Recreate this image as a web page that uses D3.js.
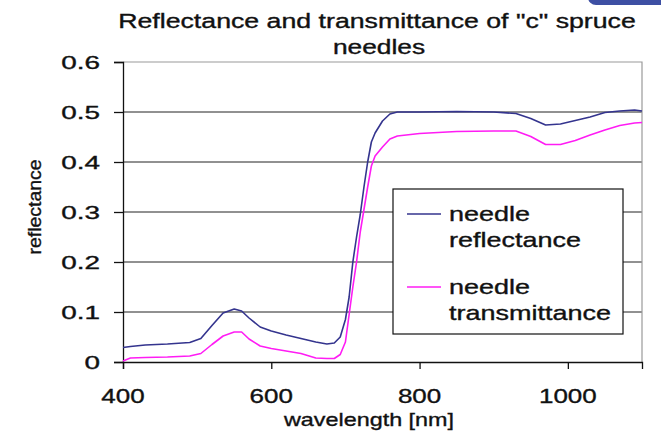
<!DOCTYPE html>
<html>
<head>
<meta charset="utf-8">
<script src="https://cdn.jsdelivr.net/npm/d3@7"></script>
<style>
  body { margin: 0; background: #fff; }
  svg { display: block; }
  text { font-family: "Liberation Sans", Arial, sans-serif; fill: #111; stroke: #111; stroke-width: 0.35px; }
</style>
</head>
<body>
<div id="mainDiv"></div>
<script>
'use strict';

var myApp = {};

// wavelength [nm]
myApp.wavelengths = [400, 410, 430, 460, 490, 505, 520, 535, 550, 560, 570, 585, 600, 620, 640, 660, 675, 685, 693,
    700, 705, 710, 715, 720, 725, 730, 735, 740, 750, 760, 770, 800, 850, 900, 930, 950, 970, 990, 1010, 1030,
    1050, 1070, 1090, 1100];

myApp.reflectance = [0.029, 0.031, 0.034, 0.036, 0.039, 0.047, 0.073, 0.098, 0.106, 0.102, 0.088, 0.070, 0.062,
    0.054, 0.047, 0.040, 0.036, 0.038, 0.050, 0.085, 0.130, 0.200, 0.250, 0.295, 0.350, 0.400, 0.440, 0.458,
    0.482, 0.496, 0.500, 0.500, 0.501, 0.500, 0.497, 0.487, 0.474, 0.476, 0.483, 0.490, 0.499, 0.502, 0.504, 0.502];

myApp.transmittance = [0.002, 0.008, 0.009, 0.010, 0.012, 0.017, 0.035, 0.052, 0.060, 0.060, 0.046, 0.032, 0.027,
    0.022, 0.017, 0.008, 0.007, 0.007, 0.015, 0.040, 0.095, 0.150, 0.200, 0.260, 0.305, 0.350, 0.392, 0.412,
    0.430, 0.446, 0.452, 0.457, 0.461, 0.462, 0.462, 0.451, 0.435, 0.435, 0.443, 0.454, 0.464, 0.473, 0.478, 0.479];

myApp.xTicks = [400, 600, 800, 1000];
myApp.yTicks = [0, 0.1, 0.2, 0.3, 0.4, 0.5, 0.6];
myApp.seriesNames = [["needle", "reflectance"], ["needle", "transmittance"]];
myApp.seriesColors = ["#34348e", "#ff1cf4"];
myApp.titleLines = ["Reflectance and transmittance of \"c\" spruce", "needles"];

// the source picture is stretched sideways, so text gets a horizontal scale
myApp.addText = function (parent, str, x, y, size, sx, anchor)
{
    return parent.append("text")
        .attr("transform", "translate(" + x + "," + y + ") scale(" + sx + ",1)")
        .attr("text-anchor", anchor || "start")
        .attr("font-size", size + "px")
        .text(str);
}

myApp.run = function ()
{
    var W = 661, H = 438;
    var left = 123, right = 642, top = 62, bottom = 362;

    var svg = d3.select("#mainDiv").append("svg")
        .attr("width", W)
        .attr("height", H);

    // bit of slide decoration at top right
    svg.append("rect")
        .attr("x", 588).attr("y", -10).attr("width", 90).attr("height", 15)
        .attr("rx", 8).attr("fill", "#3d4fa3");

    var x = d3.scaleLinear().domain([400, 1100]).range([left, right]);
    var y = d3.scaleLinear().domain([0, 0.6]).range([bottom, top]);

    // title
    myApp.addText(svg, myApp.titleLines[0], 377, 28, 19.5, 1.37, "middle");
    myApp.addText(svg, myApp.titleLines[1], 379, 54, 19.5, 1.35, "middle");

    // gridlines
    svg.append("g").selectAll("line")
        .data(myApp.yTicks.filter(function (d) { return d > 0 && d < 0.6; }))
        .enter().append("line")
            .attr("x1", left).attr("x2", right)
            .attr("y1", function (d) { return y(d); })
            .attr("y2", function (d) { return y(d); })
            .attr("stroke", "#222").attr("stroke-width", 1);

    // plot border top/right
    svg.append("path")
        .attr("d", "M" + left + "," + y(0.6) + "H" + right + "V" + bottom)
        .attr("fill", "none").attr("stroke", "#9a9a9a").attr("stroke-width", 1.2);

    // axes
    var yAxis = d3.axisLeft(y).tickValues(myApp.yTicks).tickSize(9).tickFormat("");
    var gy = svg.append("g").attr("transform", "translate(" + left + ",0)").call(yAxis);
    var xAxis = d3.axisBottom(x).tickValues(myApp.xTicks).tickSize(7).tickFormat("");
    var gx = svg.append("g").attr("transform", "translate(0," + bottom + ")").call(xAxis);
    [gx, gy].forEach(function (g) {
        g.select(".domain").attr("stroke", "#111").attr("stroke-width", 1.3);
        g.selectAll(".tick line").attr("stroke", "#111").attr("stroke-width", 1.3);
    });

    // tick labels
    myApp.yTicks.forEach(function (t) {
        myApp.addText(svg, t === 0 ? "0" : d3.format(".1f")(t), 100, y(t) + 6.5, 18, 1.55, "end");
    });
    myApp.xTicks.forEach(function (t) {
        myApp.addText(svg, String(t), x(t), 403, 20, 1.3, "middle");
    });

    // axis titles
    myApp.addText(svg, "wavelength [nm]", 369, 426, 19, 1.23, "middle");
    svg.append("text")
        .attr("transform", "translate(41,207) rotate(-90) scale(1.08,1)")
        .attr("text-anchor", "middle")
        .attr("font-size", "18px")
        .attr("stroke-width", 0.5)
        .text("reflectance");

    // series lines
    var series = [myApp.reflectance, myApp.transmittance];
    var line = d3.line()
        .x(function (d, i) { return x(myApp.wavelengths[i]); })
        .y(function (d) { return y(d); });
    svg.append("g").selectAll("path")
        .data(series)
        .enter().append("path")
            .attr("d", line)
            .attr("fill", "none")
            .attr("stroke", function (d, i) { return myApp.seriesColors[i]; })
            .attr("stroke-width", 1.6)
            .attr("stroke-linejoin", "round");

    // legend
    var lg = svg.append("g");
    lg.append("rect")
        .attr("x", 393).attr("y", 189).attr("width", 230).attr("height", 145)
        .attr("fill", "#fff").attr("stroke", "#111").attr("stroke-width", 1.2);
    myApp.seriesNames.forEach(function (names, i) {
        var ly = 214 + i * 73;
        lg.append("line")
            .attr("x1", 407).attr("x2", 441).attr("y1", ly).attr("y2", ly)
            .attr("stroke", myApp.seriesColors[i]).attr("stroke-width", 1.6);
        myApp.addText(lg, names[0], 449, ly + 7, 20, 1.35);
        myApp.addText(lg, names[1], 449, ly + 33, 20, 1.35);
    });
}

window.onload = myApp.run;
</script>
</body>
</html>
